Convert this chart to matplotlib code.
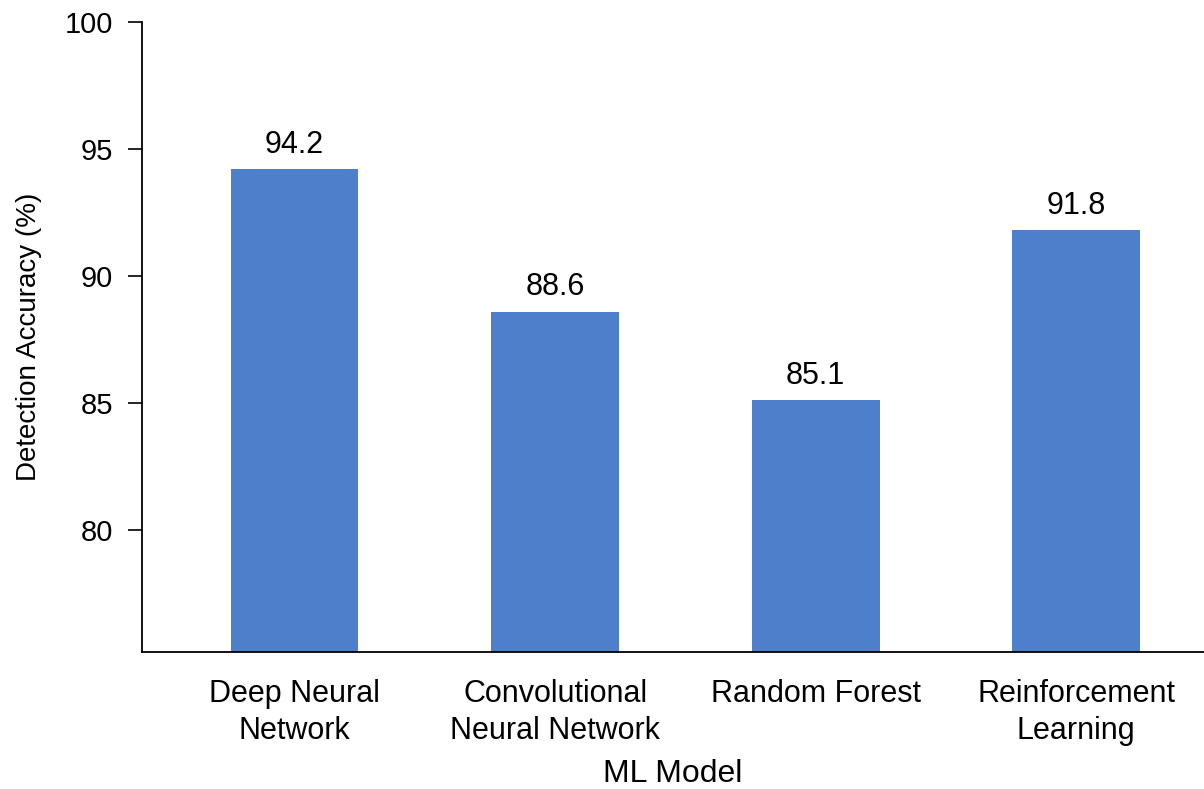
import matplotlib.pyplot as plt

plt.rcParams['font.family'] = ['Liberation Sans', 'DejaVu Sans']

models = ['Deep Neural\nNetwork', 'Convolutional\nNeural Network', 'Random Forest',
          'Reinforcement\nLearning']
accuracy = [94.2, 88.6, 85.1, 91.8]
yticks = [80, 85, 90, 95, 100]

fig = plt.figure(figsize=(12.04, 7.89), dpi=100)
ax = fig.add_axes([0.118, 0.174, 0.882, 0.798])

x = range(len(models))
bars = ax.bar(x, accuracy, width=0.49, color='#4d7fca')
for b, v in zip(bars, accuracy):
    ax.annotate(f'{v:.1f}', (b.get_x() + b.get_width() / 2, v),
                xytext=(0, 7), textcoords='offset points',
                ha='center', va='bottom', fontsize=22)

ax.set_ylim(75.2, 100)
ax.set_xlim(-0.585, 3.49)
ax.set_yticks(yticks)
ax.set_xticks(list(x))
ax.set_xticklabels(models, linespacing=1.3)
ax.tick_params(axis='y', labelsize=21, length=10, width=1.2, pad=11)
ax.tick_params(axis='x', labelsize=22, length=0, pad=20)
ax.spines[['top', 'right']].set_visible(False)
for s in ('left', 'bottom'):
    ax.spines[s].set_linewidth(1.3)

ax.set_ylabel('Detection Accuracy (%)', fontsize=20, labelpad=16)
ax.set_xlabel('ML Model', fontsize=23, labelpad=9)

fig.savefig('out.png', dpi=100)
